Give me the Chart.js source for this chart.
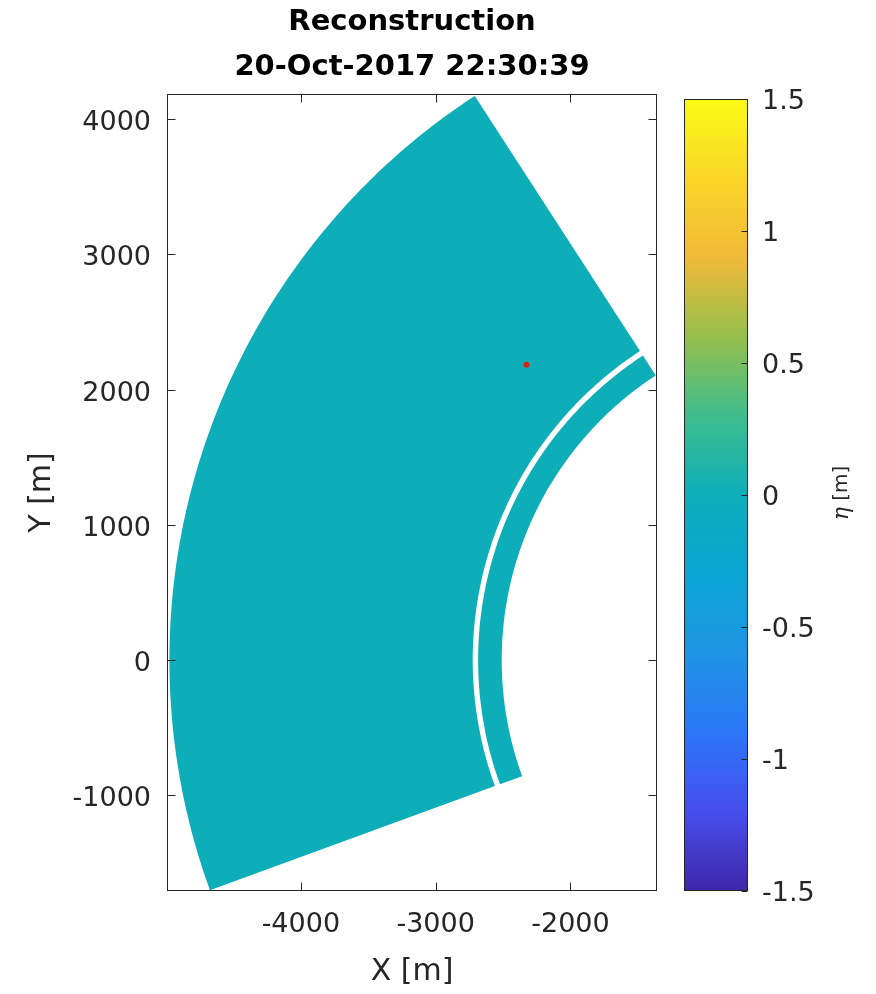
<!DOCTYPE html>
<html>
<head>
<meta charset="utf-8">
<title>Reconstruction</title>
<script src="https://cdn.jsdelivr.net/npm/chart.js@4.4.1/dist/chart.umd.min.js"></script>
<style>
  body { margin: 0; background: #fff; }
  #wrap { position: relative; width: 876px; height: 994px; }
  #wrap canvas { position: absolute; top: 0; }
  #field { left: 0; }
  #cbar { left: 660px; }
</style>
</head>
<body>
<div id="wrap">
  <canvas id="field" width="824" height="994"></canvas>
  <canvas id="cbar" width="216" height="994"></canvas>
</div>
<script>
// radar footprint: bearing limits (deg, ccw from east) and range bands (m)
const bearings = [123, 200];
const outerBand = [2725, 4975];
const innerBand = [2510, 2685];
const etaLevel = 0; // reconstructed elevation over the footprint

// probe position
const probeX = [-2326];
const probeY = [2184];

const xLimits = [-4993, -1358];
const yLimits = [-1708, 4187];
const xTicks = [-4000, -3000, -2000];
const yTicks = [-1000, 0, 1000, 2000, 3000, 4000];

const etaLimits = [-1.5, 1.5];
const etaTicks = [-1.5, -1, -0.5, 0, 0.5, 1, 1.5];
const etaTickLabels = ['-1.5', '-1', '-0.5', '0', '0.5', '1', '1.5'];

const titleLines = ['Reconstruction', '20-Oct-2017 22:30:39'];

// parula-like colormap, stop position -> rgb
const parula = [
  [0.00, [62, 38, 168]],
  [0.10, [71, 78, 236]],
  [0.20, [44, 118, 248]],
  [0.30, [30, 148, 228]],
  [0.40, [10, 165, 212]],
  [0.50, [14, 174, 185]],
  [0.60, [62, 189, 140]],
  [0.70, [150, 191, 75]],
  [0.80, [242, 186, 57]],
  [0.90, [249, 214, 40]],
  [1.00, [249, 251, 21]]
];

const ink = '#262626';
const tickFont = { family: 'DejaVu Sans', size: 27 };
const labelFont = { family: 'DejaVu Sans', size: 30 };

function rgb(c) { return `rgb(${c[0]},${c[1]},${c[2]})`; }

function colourAt(v) {
  const f = Math.min(1, Math.max(0, (v - etaLimits[0]) / (etaLimits[1] - etaLimits[0])));
  for (let i = 1; i < parula.length; i++) {
    const [f1, c1] = parula[i];
    const [f0, c0] = parula[i - 1];
    if (f <= f1) {
      const t = (f - f0) / (f1 - f0);
      return rgb(c0.map((c, k) => Math.round(c + t * (c1[k] - c))));
    }
  }
  return rgb(parula[parula.length - 1][1]);
}

function polar(r, deg) {
  const a = deg * Math.PI / 180;
  return { x: r * Math.cos(a), y: r * Math.sin(a) };
}

// closed outline of one range band between the bearing limits
function bandOutline(band) {
  const [r0, r1] = band;
  const pts = [];
  for (let a = bearings[0]; a <= bearings[1]; a += 0.5) pts.push(polar(r1, a));
  for (let a = bearings[1]; a >= bearings[0]; a -= 0.5) pts.push(polar(r0, a));
  pts.push(pts[0]);
  return pts;
}

// axes box with inward tick marks
const frame = {
  id: 'frame',
  afterDatasetsDraw(chart, args, opts) {
    const { ctx, chartArea: a, scales } = chart;
    const L = Math.round(a.left) + 0.5, R = Math.round(a.right) - 0.5;
    const T = Math.round(a.top) + 0.5, B = Math.round(a.bottom) - 0.5;
    const len = opts.tickLength;
    ctx.save();
    ctx.strokeStyle = opts.color;
    ctx.lineWidth = 1;
    ctx.strokeRect(L, T, R - L, B - T);
    ctx.beginPath();
    for (const [id, sides] of Object.entries(opts.marks)) {
      const s = scales[id];
      for (const t of s.ticks) {
        const p = Math.round(s.getPixelForValue(t.value)) + 0.5;
        for (const side of sides) {
          if (side === 'bottom') { ctx.moveTo(p, B); ctx.lineTo(p, B - len); }
          if (side === 'top') { ctx.moveTo(p, T); ctx.lineTo(p, T + len); }
          if (side === 'left') { ctx.moveTo(L, p); ctx.lineTo(L + len, p); }
          if (side === 'right') { ctx.moveTo(R, p); ctx.lineTo(R - len, p); }
        }
      }
    }
    ctx.stroke();
    ctx.restore();
  }
};

// rotated colorbar caption
const etaCaption = {
  id: 'etaCaption',
  afterDraw(chart, args, opts) {
    const { ctx } = chart;
    ctx.save();
    ctx.translate(opts.x, opts.y);
    ctx.rotate(-Math.PI / 2);
    ctx.fillStyle = opts.color;
    ctx.textBaseline = 'middle';
    ctx.textAlign = 'left';
    const symFont = 'italic 22px "DejaVu Serif"';
    const unitFont = '20px "DejaVu Sans"';
    ctx.font = symFont;
    const w1 = ctx.measureText('η').width;
    ctx.font = unitFont;
    const w2 = ctx.measureText(' [m]').width;
    const x0 = -(w1 + w2) / 2;
    ctx.font = symFont;
    ctx.fillText('η', x0, 0);
    ctx.font = unitFont;
    ctx.fillText(' [m]', x0 + w1, 0);
    ctx.restore();
  }
};

const fill = colourAt(etaLevel);

// borderDash keeps the full path (the fast path collapses near-vertical arcs)
const bandStyle = {
  showLine: true, fill: 'shape', tension: 0,
  backgroundColor: fill, borderColor: 'rgba(0,0,0,0)', borderWidth: 0, borderDash: [4, 0],
  pointRadius: 0
};

new Chart(document.getElementById('field'), {
  type: 'scatter',
  data: {
    datasets: [
      { ...bandStyle, data: bandOutline(outerBand), order: 2 },
      { ...bandStyle, data: bandOutline(innerBand), order: 1 },
      {
        data: probeX.map((x, i) => ({ x, y: probeY[i] })),
        pointRadius: 3, backgroundColor: '#d9261c', borderWidth: 0, order: 0
      }
    ]
  },
  options: {
    responsive: false,
    animation: false,
    layout: { padding: 0 },
    plugins: {
      legend: { display: false },
      tooltip: { enabled: false },
      title: {
        display: true,
        text: titleLines,
        color: '#000',
        font: { family: 'DejaVu Sans', size: 29, weight: 'bold', lineHeight: 1.55 },
        padding: { top: 0, bottom: 4 }
      },
      frame: { color: ink, tickLength: 8, marks: { x: ['top', 'bottom'], y: ['left', 'right'] } }
    },
    scales: {
      x: {
        type: 'linear',
        min: xLimits[0], max: xLimits[1],
        grid: { display: false, drawTicks: false },
        border: { display: false },
        afterBuildTicks: s => { s.ticks = xTicks.map(v => ({ value: v })); },
        afterFit: s => { s.height = 103; },
        ticks: { color: ink, font: tickFont, padding: 18, maxRotation: 0, callback: v => String(v) },
        title: { display: true, text: 'X [m]', color: ink, font: labelFont, padding: { top: 0, bottom: 4 } }
      },
      y: {
        type: 'linear',
        min: yLimits[0], max: yLimits[1],
        grid: { display: false, drawTicks: false },
        border: { display: false },
        afterBuildTicks: s => { s.ticks = yTicks.map(v => ({ value: v })); },
        afterFit: s => { s.width = 167; },
        ticks: { color: ink, font: tickFont, padding: 16, labelOffset: 4, callback: v => String(v) },
        title: { display: true, text: 'Y [m]', color: ink, font: labelFont, padding: { top: 24, bottom: 0 } }
      },
      // keeps the right margin so the title centres over the axes
      margin: {
        type: 'linear', axis: 'y', position: 'right',
        grid: { display: false, drawTicks: false },
        border: { display: false },
        ticks: { display: false },
        afterFit: s => { s.width = 167; }
      }
    }
  },
  plugins: [frame]
});

function parulaGradient(chart) {
  const y = chart.scales.y;
  if (!chart.chartArea || !y) return 'rgba(0,0,0,0)';
  const y0 = y.getPixelForValue(etaLimits[0]);
  const y1 = y.getPixelForValue(etaLimits[1]);
  if (!Number.isFinite(y0) || !Number.isFinite(y1)) return 'rgba(0,0,0,0)';
  const g = chart.ctx.createLinearGradient(0, y0, 0, y1);
  parula.forEach(([f, c]) => g.addColorStop(f, rgb(c)));
  return g;
}

new Chart(document.getElementById('cbar'), {
  type: 'bar',
  data: {
    labels: ['eta'],
    datasets: [{
      data: [etaLimits],
      backgroundColor: ctx => parulaGradient(ctx.chart),
      borderWidth: 0,
      barPercentage: 1,
      categoryPercentage: 1
    }]
  },
  options: {
    responsive: false,
    animation: false,
    layout: { padding: { left: 24, right: 0, top: 99, bottom: 103 } },
    plugins: {
      legend: { display: false },
      tooltip: { enabled: false },
      frame: { color: ink, tickLength: 6, marks: { y: ['right'] } },
      etaCaption: { x: 182, y: 493, color: ink }
    },
    scales: {
      x: { display: false },
      y: {
        position: 'right',
        min: etaLimits[0], max: etaLimits[1],
        grid: { display: false, drawTicks: false },
        border: { display: false },
        afterBuildTicks: s => { s.ticks = etaTicks.map(v => ({ value: v })); },
        afterFit: s => { s.width = 128; },
        ticks: { color: ink, font: tickFont, padding: 14, labelOffset: 3, callback: (v, i) => etaTickLabels[i] }
      }
    }
  },
  plugins: [frame, etaCaption]
});
</script>
</body>
</html>
